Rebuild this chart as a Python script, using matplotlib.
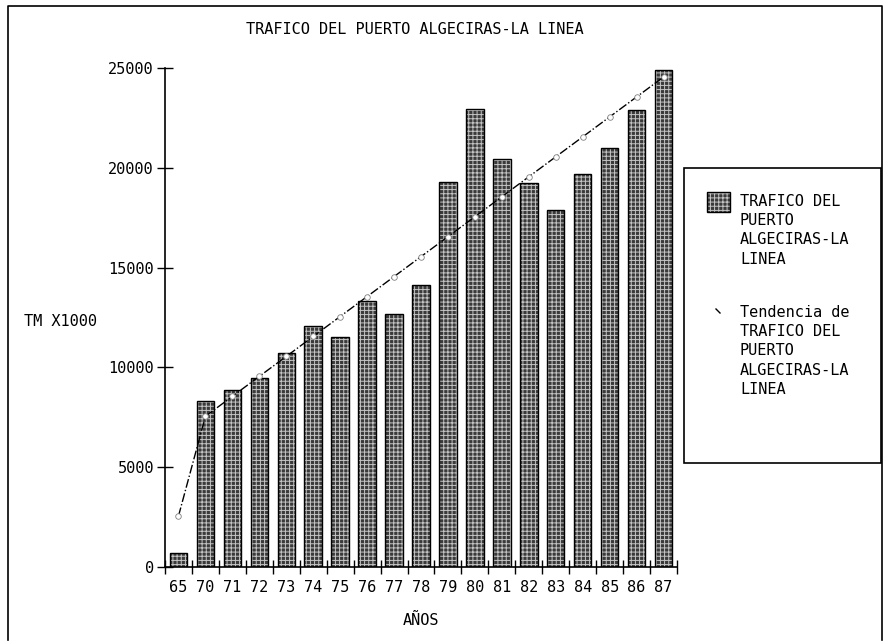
import numpy as np
import matplotlib
matplotlib.use('Agg')
from matplotlib import pyplot as plt
from matplotlib.patches import Rectangle
from matplotlib.lines import Line2D

# data
years = ['65', '70', '71', '72', '73', '74', '75', '76', '77', '78',
         '79', '80', '81', '82', '83', '84', '85', '86', '87']
traffic = [700, 8300, 8850, 9450, 10700, 12050, 11500, 13350, 12700, 14150,
           19300, 22950, 20450, 19250, 17900, 19700, 21000, 22900, 24900]
trend = [2550, 7550, 8550, 9550, 10550, 11550, 12550, 13550, 14550, 15550,
         16550, 17550, 18550, 19550, 20550, 21550, 22550, 23550, 24550]
y_ticks = [0, 5000, 10000, 15000, 20000, 25000]

title = 'TRAFICO DEL PUERTO ALGECIRAS-LA LINEA'
y_label = 'TM X1000'
x_label = 'AÑOS'
legend_bar = 'TRAFICO DEL\nPUERTO\nALGECIRAS-LA\nLINEA'
legend_trend = 'Tendencia de\nTRAFICO DEL\nPUERTO\nALGECIRAS-LA\nLINEA'

plt.rcParams['font.family'] = ['DejaVu Sans Mono']
plt.rcParams['hatch.linewidth'] = 0.7

W, H = 887, 644
fig = plt.figure(figsize=(W / 100, H / 100), dpi=100)


def fx(px):
    return px / W


def fy(py):
    return 1 - py / H


ax = fig.add_axes([fx(165), fy(567), fx(677) - fx(165), fy(68) - fy(567)])

x = np.arange(len(years))
ax.bar(x, traffic, width=0.65, color='#3a3a3a', edgecolor='#c4c4c4',
       hatch='++++', linewidth=0)
ax.bar(x, traffic, width=0.65, fill=False, edgecolor='black', linewidth=1)
ax.plot(x, trend, color='black', linestyle='-.', linewidth=1,
        marker='o', markersize=4, markerfacecolor='white',
        markeredgecolor='#808080', markeredgewidth=0.6)

ax.set_xlim(-0.5, len(years) - 0.5)
ax.set_ylim(0, 25000)

ax.spines['top'].set_visible(False)
ax.spines['right'].set_visible(False)
ax.spines['left'].set_linewidth(1.2)
ax.spines['bottom'].set_linewidth(1.2)

ax.set_yticks(y_ticks)
ax.set_yticklabels([str(v) for v in y_ticks])
ax.tick_params(axis='y', direction='inout', length=12, width=1,
               labelsize=11, pad=2)

# tick marks sit between the years, labels at the bar centres
ax.set_xticks(np.arange(len(years) + 1) - 0.5)
ax.set_xticklabels([])
ax.set_xticks(x, minor=True)
ax.set_xticklabels(years, minor=True)
ax.tick_params(axis='x', which='major', direction='inout', length=10, width=1)
ax.tick_params(axis='x', which='minor', length=0, labelsize=11, pad=9)

fig.text(fx(415), fy(30), title, ha='center', va='center', fontsize=11)
fig.text(fx(61), fy(322), y_label, ha='center', va='center', fontsize=11)
fig.text(fx(421), fy(620), x_label, ha='center', va='center', fontsize=11)

# legend box drawn by hand to follow the original layout
fig.patches.append(Rectangle((fx(684), fy(463)), fx(881) - fx(684),
                             fy(168) - fy(463), transform=fig.transFigure,
                             fill=False, edgecolor='black', linewidth=1.2))
fig.patches.append(Rectangle((fx(707), fy(212)), fx(730) - fx(707),
                             fy(192) - fy(212), transform=fig.transFigure,
                             facecolor='#3a3a3a', edgecolor='#c4c4c4',
                             hatch='++++', linewidth=0))
fig.patches.append(Rectangle((fx(707), fy(212)), fx(730) - fx(707),
                             fy(192) - fy(212), transform=fig.transFigure,
                             fill=False, edgecolor='black', linewidth=1))
fig.lines.append(Line2D([fx(716), fx(720)], [fy(309), fy(313)],
                        transform=fig.transFigure, color='black',
                        linewidth=1))
fig.text(fx(740), fy(194), legend_bar, ha='left', va='top', fontsize=11,
         linespacing=1.35)
fig.text(fx(740), fy(305), legend_trend, ha='left', va='top', fontsize=11,
         linespacing=1.35)

# frame of the scanned page
fig.lines.append(Line2D([fx(8), fx(8), fx(882), fx(882)],
                        [fy(640), fy(6), fy(6), fy(640)],
                        transform=fig.transFigure, color='black',
                        linewidth=1.2))

fig.savefig('out.png', dpi=100)
